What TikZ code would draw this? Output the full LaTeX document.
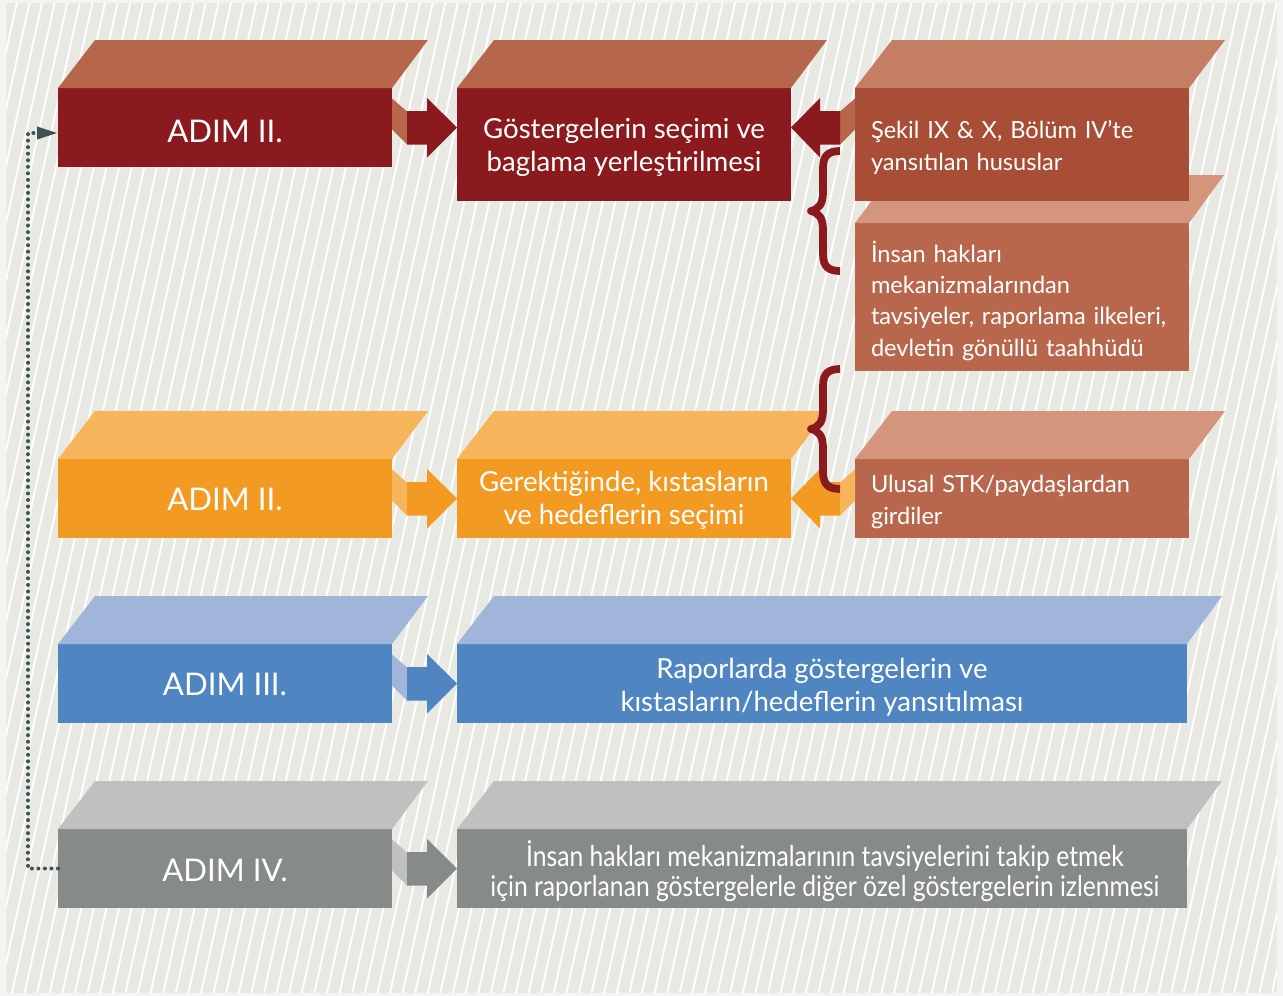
\documentclass[tikz,border=0pt]{standalone}
\usepackage{fontspec}
\setmainfont{Lato}
\newfontfamily\condfont[FakeStretch=0.86]{Lato}
\usetikzlibrary{arrows.meta,calc}

\definecolor{pagegray}{RGB}{244,244,242}
\definecolor{bggray}{RGB}{233,233,228}
\definecolor{redfront}{RGB}{139,26,30}
\definecolor{redtop}{RGB}{181,102,75}
\definecolor{rustfront}{RGB}{168,78,54}
\definecolor{rusttop}{RGB}{196,126,100}
\definecolor{clayfront}{RGB}{184,102,76}
\definecolor{claytop}{RGB}{211,149,123}
\definecolor{orangefront}{RGB}{243,154,34}
\definecolor{orangetop}{RGB}{247,181,91}
\definecolor{bluefront}{RGB}{79,134,194}
\definecolor{bluetop}{RGB}{161,181,218}
\definecolor{grayfront}{RGB}{134,138,137}
\definecolor{graytop}{RGB}{192,192,192}
\definecolor{dotgray}{RGB}{59,83,83}

\begin{document}
\begin{tikzpicture}[x=0.75pt,y=0.75pt,yscale=-1,xscale=1,
  stripe/.style={white, line width=1.4pt},
  front/.style={inner sep=0pt, outer sep=0pt, minimum width=250.5pt},
  wide/.style={minimum width=547.5pt},
  lowbox/.style={minimum height=59.25pt},
  tallbox/.style={minimum height=84.75pt},
  label/.style={text=white, inner sep=0pt, align=center},
  sidetext/.style={label, align=left, text width=226.5pt},
  adim/.style={label, font=\fontsize{23.4}{27}\selectfont},
  maintext/.style={label, font=\fontsize{20.7}{25}\selectfont},
  notetext/.style={sidetext, font=\fontsize{17.7}{23.5}\selectfont},
  lasttext/.style={label, font=\condfont\fontsize{21.5}{22.5}\selectfont},
  bracestyle/.style={draw=redfront, line width=5.8pt, line join=round},
  dots/.style={dotgray, line width=3pt, line cap=round, dash pattern=on 0pt off 4.9pt}]
  \useasboundingbox (0,0) rectangle (1283,996);

  % background with stripes
  \fill[pagegray] (0,0) rectangle (1283,996);
  \fill[bggray] (6,3) rectangle (1277,993);
  \begin{scope}
    \clip (6,3) rectangle (1277,993);
    \foreach \i in {-240,-227.4,...,1290} \draw[stripe] (\i,993) -- ++(219,-990);
  \end{scope}

  %Row 1 (ADIM II.)
  \node[front, lowbox, fill=redfront] (A1) at (225,127.5) {};
  \fill[redtop] (A1.north west) -- (A1.north east) -- ++(36,-48) -- ($(A1.north west)+(37,-48)$) -- cycle;
  \node[front, tallbox, fill=redfront] (B1) at (624,144.5) {};
  \fill[redtop] (B1.north west) -- (B1.north east) -- ++(36,-48) -- ($(B1.north west)+(37,-48)$) -- cycle;
  % lower note box first, its top goes under the upper one
  \node[front, minimum height=111pt, fill=clayfront] (D1) at (1022,297) {};
  \fill[claytop] (D1.north west) -- (D1.north east) -- ++(35,-48) -- ($(D1.north west)+(36,-48)$) -- cycle;
  \node[front, tallbox, fill=rustfront] (C1) at (1022,144.5) {};
  \fill[rusttop] (C1.north west) -- (C1.north east) -- ++(36,-48) -- ($(C1.north west)+(37,-48)$) -- cycle;

  % Text Node
  \node[adim] (A1t) at ($(A1)+(0,4)$) {ADIM II.};
  % Text Node
  \node[maintext] (B1t) at ($(B1)+(0,3)$) {Göstergelerin seçimi ve\\baglama yerleştirilmesi};
  % Text Node
  \node[notetext] (C1t) at ($(C1)+(0,3)$) {Şekil IX \& X, Bölüm IV’te\\yansıtılan hususlar};
  % Text Node
  \node[notetext] (D1t) at ($(D1)+(0,3.5)$) {İnsan hakları\\mekanizmalarından\\tavsiyeler, raporlama ilkeleri,\\devletin gönüllü taahhüdü};

  %Block Arrows row 1
  \fill[redtop] (A1.east) ++(0,-29) -- ++(15,13) -- ++(0,33) -- ++(-15,-15) -- cycle;
  \fill[redfront] (A1.east) ++(15,-16.5) -- ++(20,0) -- ++(0,-13) -- (B1.west |- A1.east) -- ++(-30,30) -- ++(0,-13) -- ++(-20,0) -- cycle;
  \fill[redtop] (C1.west |- A1.east) ++(0,-29) -- ++(-15,13) -- ++(0,33) -- ++(15,-15) -- cycle;
  \fill[redfront] (C1.west |- A1.east) ++(-15,-16.5) -- ++(-20,0) -- ++(0,-13) -- (B1.east |- A1.east) -- ++(29,30) -- ++(0,-13) -- ++(20,0) -- cycle;

  %Row 2 (ADIM II.)
  \node[front, lowbox, fill=orangefront] (A2) at (225,498.5) {};
  \fill[orangetop] (A2.north west) -- (A2.north east) -- ++(36,-48) -- ($(A2.north west)+(37,-48)$) -- cycle;
  \node[front, lowbox, fill=orangefront] (B2) at (624,498.5) {};
  \fill[orangetop] (B2.north west) -- (B2.north east) -- ++(36,-48) -- ($(B2.north west)+(37,-48)$) -- cycle;
  \node[front, lowbox, fill=clayfront] (C2) at (1022,498.5) {};
  \fill[claytop] (C2.north west) -- (C2.north east) -- ++(36,-48) -- ($(C2.north west)+(37,-48)$) -- cycle;

  % Text Node
  \node[adim] (A2t) at ($(A2)+(0,1)$) {ADIM II.};
  % Text Node
  \node[maintext] (B2t) at ($(B2)+(0,2)$) {Gerektiğinde, kıstasların\\ve hedeflerin seçimi};
  % Text Node
  \node[notetext] (C2t) at ($(C2)+(0,3.5)$) {Ulusal STK/paydaşlardan\\girdiler};

  %Block Arrows row 2
  \fill[orangetop] (A2.east) ++(0,-29) -- ++(15,13) -- ++(0,33) -- ++(-15,-15) -- cycle;
  \fill[orangefront] (A2.east) ++(15,-16.5) -- ++(20,0) -- ++(0,-13) -- (B2.west) -- ++(-30,30) -- ++(0,-13) -- ++(-20,0) -- cycle;
  \fill[orangetop] (C2.west) ++(0,-29) -- ++(-15,13) -- ++(0,33) -- ++(15,-15) -- cycle;
  \fill[orangefront] (C2.west) ++(-15,-16.5) -- ++(-20,0) -- ++(0,-13) -- (B2.east) -- ++(29,30) -- ++(0,-13) -- ++(20,0) -- cycle;

  %Braces
  \draw[bracestyle] (840,151) .. controls (828,151) and (823,156) .. (823,168) -- (823,192) .. controls (823,204) and (819,209) .. (811,211) .. controls (819,213) and (823,218) .. (823,230) -- (823,254) .. controls (823,266) and (828,271) .. (840,271);
  \draw[bracestyle] (840,369) .. controls (828,369) and (823,374) .. (823,386) -- (823,410) .. controls (823,422) and (819,427) .. (811,429) .. controls (819,431) and (823,436) .. (823,448) -- (823,472) .. controls (823,484) and (828,489) .. (840,489);

  %Row 3 (ADIM III.)
  \node[front, lowbox, fill=bluefront] (A3) at (225,683.5) {};
  \fill[bluetop] (A3.north west) -- (A3.north east) -- ++(36,-48) -- ($(A3.north west)+(37,-48)$) -- cycle;
  \node[front, wide, lowbox, fill=bluefront] (B3) at (822,683.5) {};
  \fill[bluetop] (B3.north west) -- (B3.north east) -- ++(35,-48) -- ($(B3.north west)+(37,-48)$) -- cycle;
  \fill[bluetop] (A3.east) ++(0,-29) -- ++(15,13) -- ++(0,33) -- ++(-15,-15) -- cycle;
  \fill[bluefront] (A3.east) ++(15,-16.5) -- ++(20,0) -- ++(0,-13) -- (B3.west) -- ++(-30,30) -- ++(0,-13) -- ++(-20,0) -- cycle;

  % Text Node
  \node[adim] (A3t) at ($(A3)+(0,1)$) {ADIM III.};
  % Text Node
  \node[maintext] (B3t) at ($(B3)+(0,4)$) {Raporlarda göstergelerin ve\\kıstasların/hedeflerin yansıtılması};

  %Row 4 (ADIM IV.)
  \node[front, lowbox, fill=grayfront] (A4) at (225,868.5) {};
  \fill[graytop] (A4.north west) -- (A4.north east) -- ++(36,-48) -- ($(A4.north west)+(37,-48)$) -- cycle;
  \node[front, wide, lowbox, fill=grayfront] (B4) at (822,868.5) {};
  \fill[graytop] (B4.north west) -- (B4.north east) -- ++(35,-48) -- ($(B4.north west)+(37,-48)$) -- cycle;
  \fill[graytop] (A4.east) ++(0,-29) -- ++(15,13) -- ++(0,33) -- ++(-15,-15) -- cycle;
  \fill[grayfront] (A4.east) ++(15,-16.5) -- ++(20,0) -- ++(0,-13) -- (B4.west) -- ++(-30,30) -- ++(0,-13) -- ++(-20,0) -- cycle;

  % Text Node
  \node[adim] (A4t) at ($(A4)+(0,2)$) {ADIM IV.};
  % Text Node
  \node[lasttext] (B4t) at ($(B4)+(3,3)$) {İnsan hakları mekanizmalarının tavsiyelerini takip etmek\\için raporlanan göstergelerle diğer özel göstergelerin izlenmesi};

  %Dotted back line
  \draw[dots] (A4.west) -- ++(-30,0) |- ($(A1.west)+(-20,5.5)$);
  \fill[dotgray] (A1.west) ++(-1,5.5) -- ++(-20,-6.5) -- ++(0,13) -- cycle;

\end{tikzpicture}
\end{document}
